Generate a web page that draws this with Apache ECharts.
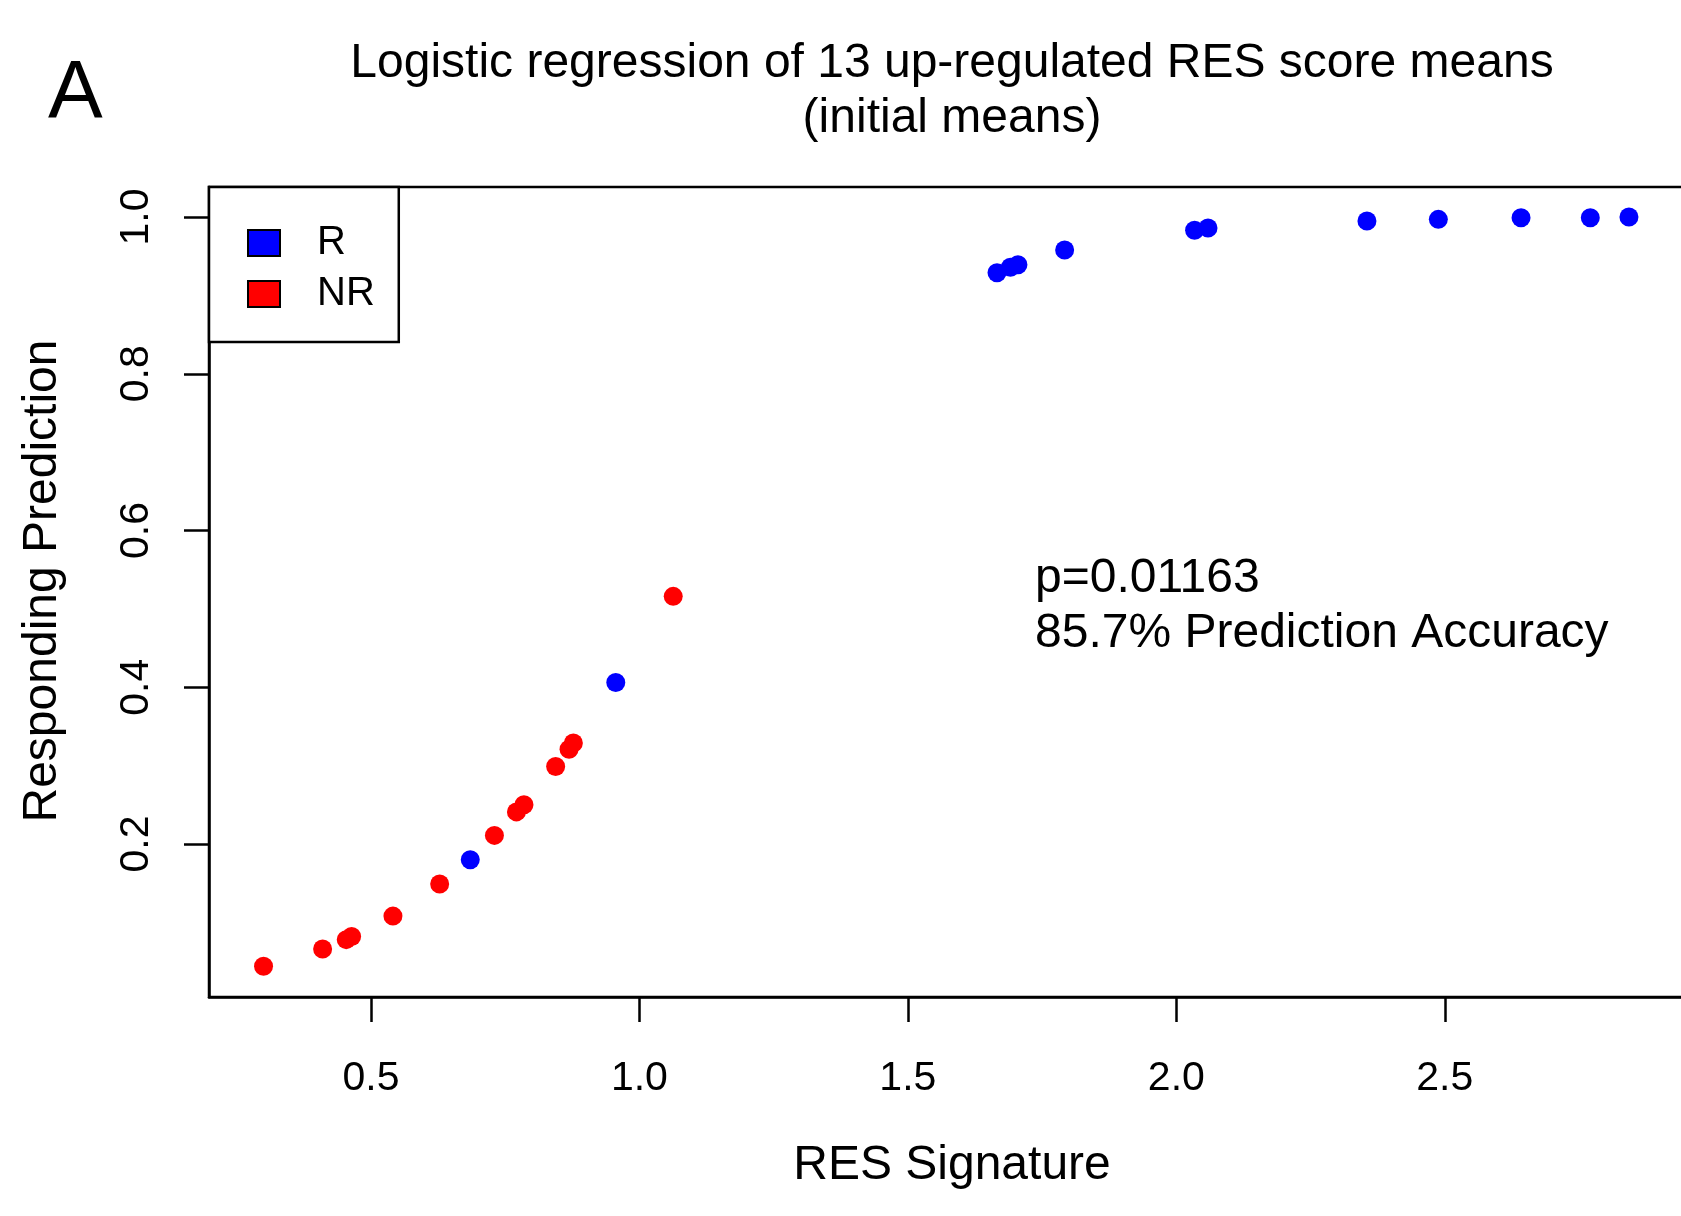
<!DOCTYPE html>
<html>
<head>
<meta charset="utf-8">
<script src="https://cdn.jsdelivr.net/npm/echarts@6/dist/echarts.min.js"></script>
<style>
html,body{margin:0;padding:0;background:#fff;overflow:hidden;}
#chart{width:1681px;height:1216px;}
</style>
</head>
<body>
<div id="chart"></div>
<script>
// Responders (R)
var rX = [0.685, 0.956, 1.666, 1.691, 1.705, 1.792, 2.034, 2.059, 2.355, 2.488, 2.642, 2.771, 2.843];
var rY = [0.180, 0.406, 0.929, 0.936, 0.939, 0.958, 0.983, 0.986, 0.995, 0.997, 0.999, 0.999, 1.000];
// Non-responders (NR)
var nrX = [0.300, 0.410, 0.454, 0.464, 0.541, 0.628, 0.730, 0.771, 0.785, 0.844, 0.869, 0.877, 1.063];
var nrY = [0.044, 0.066, 0.078, 0.082, 0.108, 0.149, 0.211, 0.241, 0.250, 0.299, 0.321, 0.329, 0.516];
var xTicks = [0.5, 1.0, 1.5, 2.0, 2.5];
var yTicks = [0.2, 0.4, 0.6, 0.8, 1.0];
var seriesNames = ['R', 'NR'];
var titleLines = ['Logistic regression of 13 up-regulated RES score means', '(initial means)'];
var annotation = ['p=0.01163', '85.7% Prediction Accuracy'];
var xName = 'RES Signature';
var yName = 'Responding Prediction';
var panelLabel = 'A';

function zip(a, b) { return a.map(function (v, i) { return [v, b[i]]; }); }

var FONT = '"Liberation Sans", Arial, Helvetica, sans-serif';
var chart = echarts.init(document.getElementById('chart'), null, {renderer: 'canvas'});
chart.setOption({
  backgroundColor: '#ffffff',
  animation: false,
  title: {
    text: titleLines.join('\n'),
    left: 952, top: 36, textAlign: 'center', padding: 0,
    textStyle: {fontFamily: FONT, fontSize: 48, fontWeight: 'normal', color: '#000', lineHeight: 55}
  },
  grid: {
    left: 209, top: 187, width: 1486, height: 810,
    outerBoundsMode: 'none', containLabel: false,
    show: true, borderColor: '#000', borderWidth: 2.5, backgroundColor: 'transparent'
  },
  legend: {
    data: seriesNames,
    orient: 'vertical', left: 209, top: 187,
    padding: [36, 24, 28, 38],
    itemGap: 11,
    itemWidth: 32, itemHeight: 26,
    icon: 'rect',
    borderColor: '#000', borderWidth: 2.5, backgroundColor: '#fff',
    itemStyle: {borderColor: '#000', borderWidth: 2},
    textStyle: {fontFamily: FONT, fontSize: 40, color: '#000', padding: [0, 0, 0, 32]}
  },
  xAxis: {
    type: 'value', min: 0.1984, max: 2.966,
    name: xName, nameLocation: 'middle', nameGap: 145,
    nameTextStyle: {fontFamily: FONT, fontSize: 48, color: '#000'},
    splitLine: {show: false},
    axisLine: {show: true, onZero: false, lineStyle: {color: '#000', width: 2.5}},
    axisTick: {show: true, length: 25, lineStyle: {color: '#000', width: 2.5}, customValues: xTicks},
    axisLabel: {
      customValues: xTicks, margin: 61, color: '#000', fontFamily: FONT, fontSize: 41,
      formatter: function (v) { return v.toFixed(1); }
    }
  },
  yAxis: {
    type: 'value', min: 0.0048, max: 1.0383,
    name: yName, nameLocation: 'middle', nameGap: 142, nameRotate: 90,
    nameTextStyle: {fontFamily: FONT, fontSize: 48, color: '#000', padding: [0, 0, 0, 22]},
    splitLine: {show: false},
    axisLine: {show: true, onZero: false, lineStyle: {color: '#000', width: 2.5}},
    axisTick: {show: true, length: 25, lineStyle: {color: '#000', width: 2.5}, customValues: yTicks},
    axisLabel: {
      customValues: yTicks, rotate: 90, margin: 52, color: '#000', fontFamily: FONT, fontSize: 41,
      formatter: function (v) { return v.toFixed(1); }
    }
  },
  series: [
    {name: seriesNames[0], type: 'scatter', data: zip(rX, rY), symbol: 'circle', symbolSize: 19,
     itemStyle: {color: '#0000ff', opacity: 1}, z: 3},
    {name: seriesNames[1], type: 'scatter', data: zip(nrX, nrY), symbol: 'circle', symbolSize: 19,
     itemStyle: {color: '#ff0000', opacity: 1}, z: 3}
  ],
  graphic: [
    {type: 'text', left: 48, top: 53, style: {text: panelLabel, fontFamily: FONT, fontSize: 82, fill: '#000'}},
    {type: 'text', left: 1035, top: 551, style: {text: annotation.join('\n'), fontFamily: FONT, fontSize: 48, lineHeight: 55, fill: '#000'}}
  ]
});
</script>
</body>
</html>
